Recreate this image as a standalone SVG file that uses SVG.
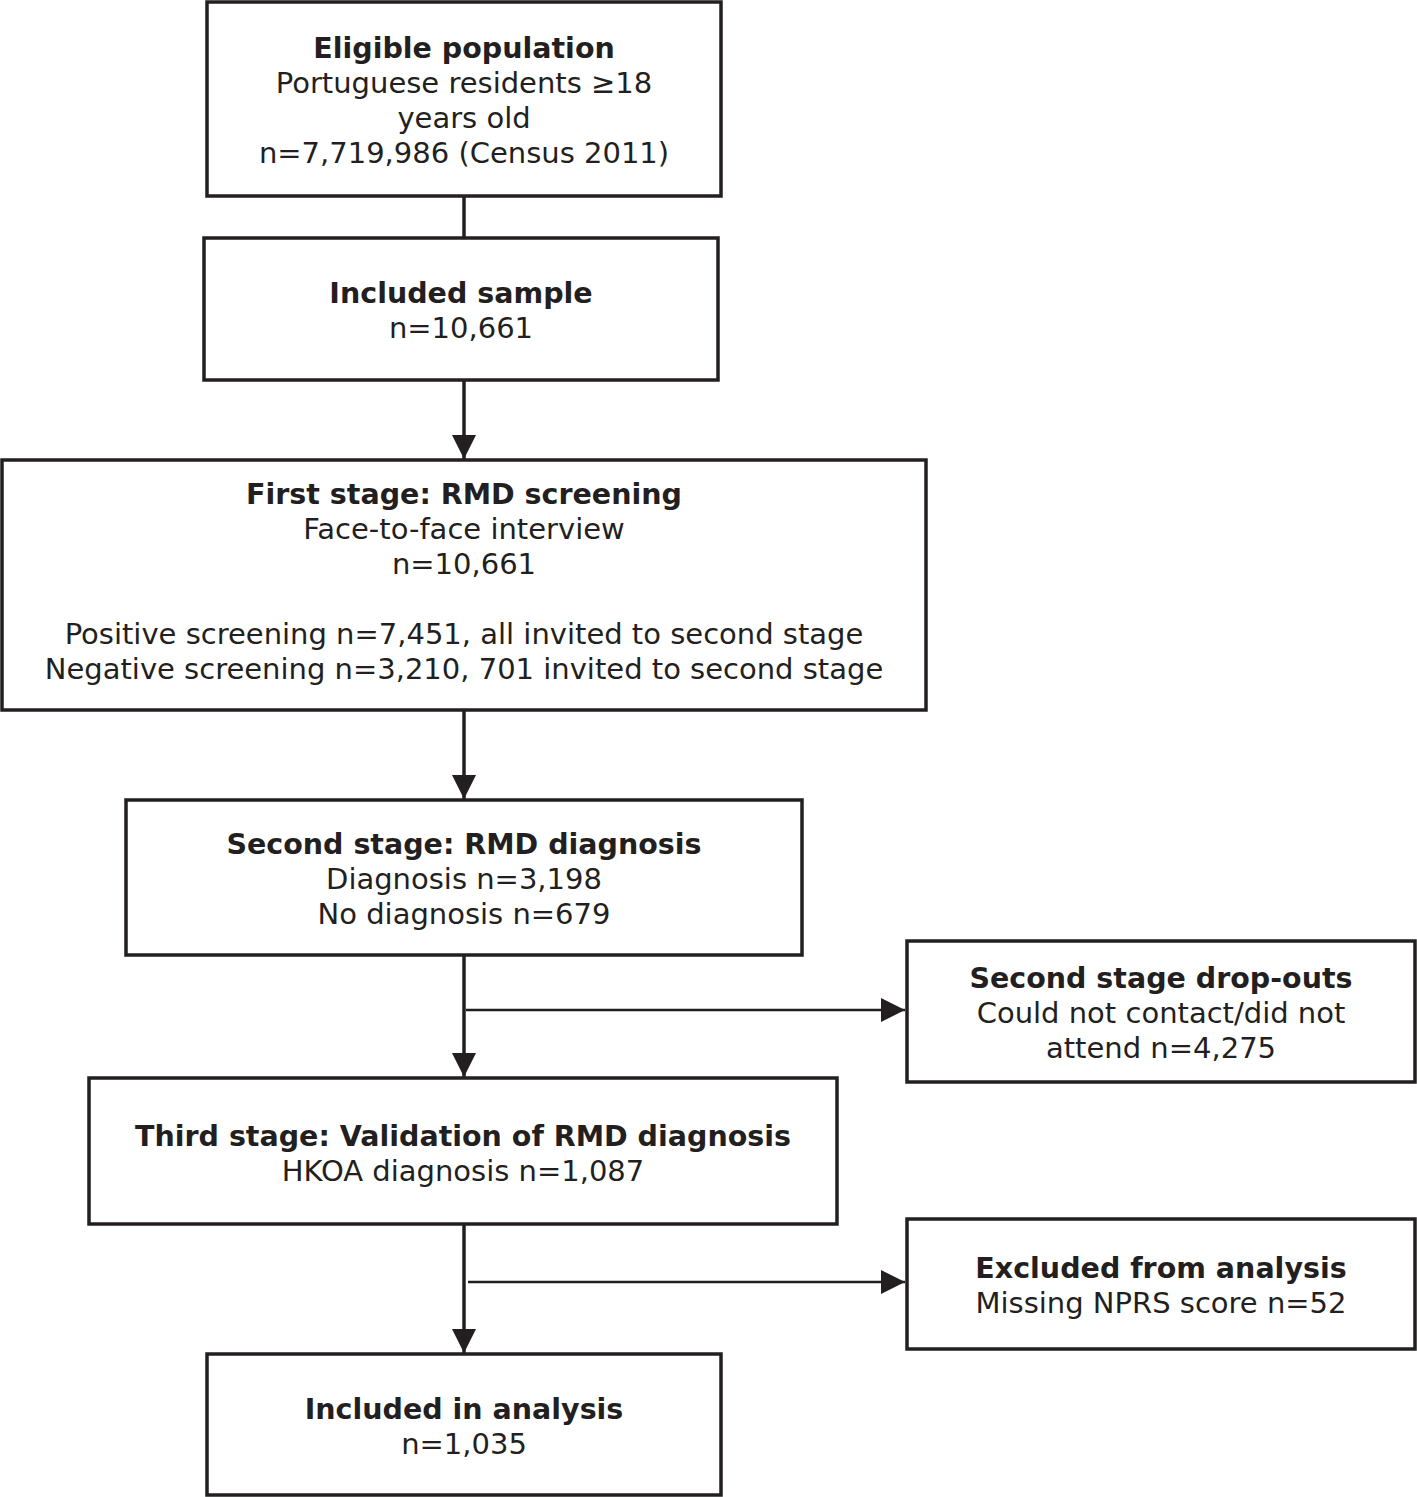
<svg xmlns="http://www.w3.org/2000/svg" width="1417" height="1497" viewBox="0 0 1417 1497">
<style>
.box{fill:#fff;stroke:#231f20;stroke-width:3.5}
text{font-family:"DejaVu Sans","Verdana",sans-serif;font-size:29px;fill:#231f20;text-anchor:middle}
.b{font-weight:bold;font-size:28.5px}
.v{stroke:#231f20;stroke-width:3.5;fill:none}
.h{stroke:#231f20;stroke-width:2.5;fill:none}
</style>
<defs>
<marker id="ah" markerUnits="userSpaceOnUse" markerWidth="24" markerHeight="24" refX="22" refY="11" orient="auto" viewBox="0 0 22 22">
<path d="M0,0 L22,11 L0,22 Z" fill="#231f20"/>
</marker>
</defs>
<g id="connectors">
<line class="v" x1="464" y1="196" x2="464" y2="238"/>
<line class="v" x1="464" y1="380" x2="464" y2="459" marker-end="url(#ah)"/>
<line class="v" x1="464" y1="710" x2="464" y2="799" marker-end="url(#ah)"/>
<line class="v" x1="464" y1="955" x2="464" y2="1077" marker-end="url(#ah)"/>
<line class="h" x1="466" y1="1010" x2="905" y2="1010" marker-end="url(#ah)"/>
<line class="v" x1="464" y1="1225" x2="464" y2="1353" marker-end="url(#ah)"/>
<line class="h" x1="468" y1="1282" x2="905" y2="1282" marker-end="url(#ah)"/>
</g>
<g id="eligible">
<rect class="box" x="207" y="2" width="514" height="194"/>
<text class="b" x="464" y="58">Eligible population</text>
<text x="464" y="93">Portuguese residents ≥18</text>
<text x="464" y="128">years old</text>
<text x="464" y="163">n=7,719,986 (Census 2011)</text>
</g>
<g id="included-sample">
<rect class="box" x="204" y="238" width="514" height="142"/>
<text class="b" x="461" y="303">Included sample</text>
<text x="461" y="338">n=10,661</text>
</g>
<g id="first-stage">
<rect class="box" x="2" y="460" width="924" height="250"/>
<text class="b" x="464" y="504">First stage: RMD screening</text>
<text x="464" y="539">Face-to-face interview</text>
<text x="464" y="574">n=10,661</text>
<text x="464" y="644">Positive screening n=7,451, all invited to second stage</text>
<text x="464" y="679">Negative screening n=3,210, 701 invited to second stage</text>
</g>
<g id="second-stage">
<rect class="box" x="126" y="800" width="676" height="155"/>
<text class="b" x="464" y="854">Second stage: RMD diagnosis</text>
<text x="464" y="889">Diagnosis n=3,198</text>
<text x="464" y="924">No diagnosis n=679</text>
</g>
<g id="dropouts">
<rect class="box" x="907" y="941" width="508" height="141"/>
<text class="b" x="1161" y="988">Second stage drop-outs</text>
<text x="1161" y="1023">Could not contact/did not</text>
<text x="1161" y="1058">attend n=4,275</text>
</g>
<g id="third-stage">
<rect class="box" x="89" y="1078" width="748" height="146"/>
<text class="b" x="463" y="1146">Third stage: Validation of RMD diagnosis</text>
<text x="463" y="1181">HKOA diagnosis n=1,087</text>
</g>
<g id="excluded">
<rect class="box" x="907" y="1219" width="508" height="130"/>
<text class="b" x="1161" y="1278">Excluded from analysis</text>
<text x="1161" y="1313">Missing NPRS score n=52</text>
</g>
<g id="included-analysis">
<rect class="box" x="207" y="1354" width="514" height="141"/>
<text class="b" x="464" y="1419">Included in analysis</text>
<text x="464" y="1454">n=1,035</text>
</g>
</svg>
